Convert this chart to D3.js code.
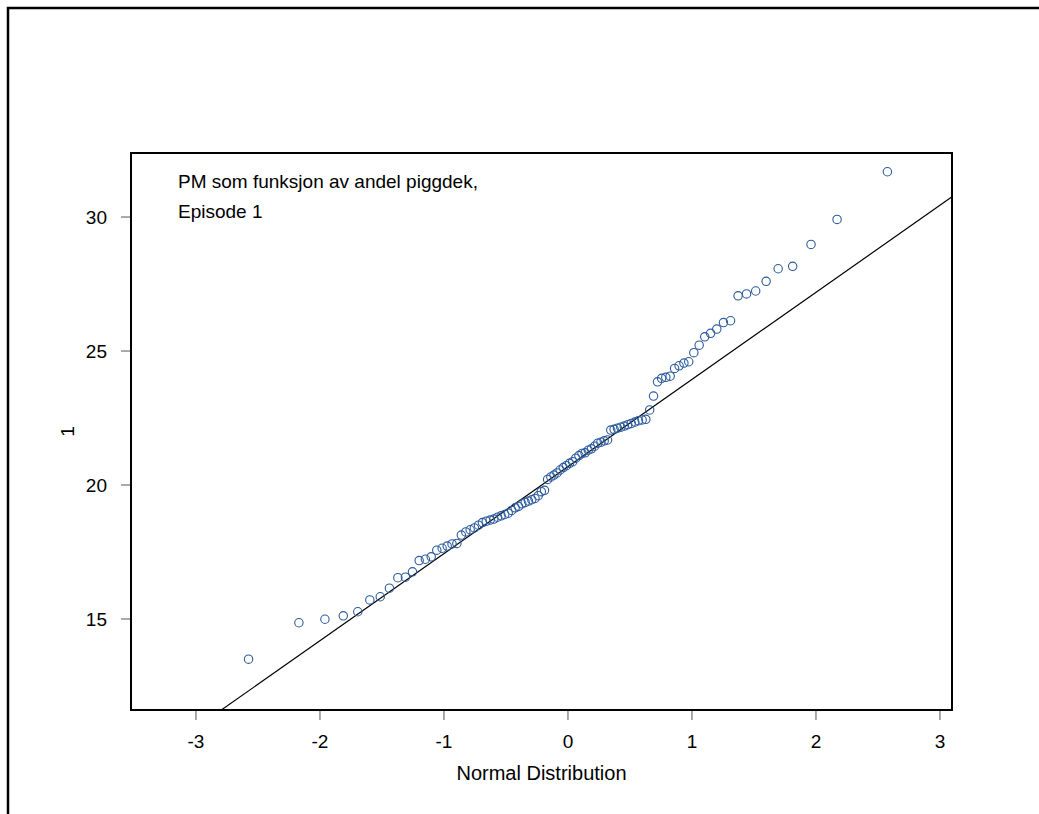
<!DOCTYPE html>
<html>
<head>
<meta charset="utf-8">
<script src="https://cdn.jsdelivr.net/npm/d3@7"></script>
<style>
  body { margin: 0; background: #fff; }
  text { font-family: "Liberation Sans", Arial, sans-serif; }
</style>
</head>
<body>
<div class="chart"></div>
<script>
// theoretical normal quantiles (x) and sorted sample values (y)
const qx = [-2.576,-2.170,-1.960,-1.812,-1.695,-1.598,-1.514,-1.440,-1.372,-1.311,
  -1.254,-1.200,-1.150,-1.103,-1.058,-1.015,-0.974,-0.935,-0.896,-0.860,
  -0.824,-0.789,-0.755,-0.722,-0.690,-0.659,-0.628,-0.598,-0.568,-0.539,
  -0.510,-0.482,-0.454,-0.426,-0.399,-0.372,-0.345,-0.319,-0.292,-0.266,
  -0.240,-0.215,-0.189,-0.164,-0.138,-0.113,-0.088,-0.063,-0.038,-0.013,
  0.013,0.038,0.063,0.088,0.113,0.138,0.164,0.189,0.215,0.240,
  0.266,0.292,0.319,0.345,0.372,0.399,0.426,0.454,0.482,0.510,
  0.539,0.568,0.598,0.628,0.659,0.690,0.722,0.755,0.789,0.824,
  0.860,0.896,0.935,0.974,1.015,1.058,1.103,1.150,1.200,1.254,
  1.311,1.372,1.440,1.514,1.598,1.695,1.812,1.960,2.170,2.576]

const pm = [13.50,14.86,14.99,15.12,15.27,15.71,15.83,16.15,16.54,16.56,
  16.76,17.18,17.23,17.32,17.57,17.64,17.72,17.80,17.82,18.13,
  18.25,18.33,18.40,18.50,18.60,18.65,18.69,18.73,18.80,18.85,
  18.90,18.95,19.05,19.15,19.20,19.30,19.35,19.40,19.45,19.50,
  19.60,19.75,19.80,20.21,20.30,20.37,20.45,20.56,20.65,20.72,
  20.81,20.87,21.00,21.10,21.18,21.20,21.30,21.35,21.45,21.56,
  21.60,21.65,21.68,22.05,22.08,22.12,22.16,22.20,22.25,22.30,
  22.35,22.40,22.43,22.45,22.80,23.32,23.85,23.98,24.02,24.06,
  24.35,24.45,24.55,24.60,24.94,25.22,25.53,25.66,25.82,26.06,
  26.13,27.06,27.13,27.24,27.60,28.07,28.16,28.98,29.91,31.69]

const xTicks = [-3,-2,-1,0,1,2,3]
const yTicks = [15,20,25,30]

// reference line (intercept, slope) as drawn
const lineA = 20.69, lineB = 3.25

const W = 1039, H = 814
const box = { left: 131, right: 952, top: 153, bottom: 710 }

const svg = d3.select(".chart")
  .append("svg")
  .attr("width", W)
  .attr("height", H)

svg.append("rect").attr("width", W).attr("height", H).attr("fill", "#fff")

// outer frame (right and bottom edges fall outside the picture)
svg.append("rect")
  .attr("x", 8).attr("y", 8)
  .attr("width", W + 20).attr("height", H + 20)
  .attr("fill", "none")
  .attr("stroke", "#000")
  .attr("stroke-width", 2.5)

const x = d3.scaleLinear().domain([-3.524, 3.097]).range([box.left, box.right])
const y = d3.scaleLinear().domain([11.604, 32.39]).range([box.bottom, box.top])

svg.append("clipPath").attr("id", "clip")
  .append("rect")
  .attr("x", box.left).attr("y", box.top)
  .attr("width", box.right - box.left).attr("height", box.bottom - box.top)

// qq line
const xd = x.domain()
svg.append("line")
  .attr("clip-path", "url(#clip)")
  .attr("x1", x(xd[0])).attr("y1", y(lineA + lineB * xd[0]))
  .attr("x2", x(xd[1])).attr("y2", y(lineA + lineB * xd[1]))
  .attr("stroke", "#000")
  .attr("stroke-width", 1.2)

// points
svg.append("g")
  .selectAll("circle")
  .data(qx.map((q, i) => [q, pm[i]]))
  .join("circle")
  .attr("cx", d => x(d[0]))
  .attr("cy", d => y(d[1]))
  .attr("r", 4.2)
  .attr("fill", "none")
  .attr("stroke", "#2a5a9c")
  .attr("stroke-width", 1.1)

// plot box
svg.append("rect")
  .attr("x", box.left).attr("y", box.top)
  .attr("width", box.right - box.left).attr("height", box.bottom - box.top)
  .attr("fill", "none")
  .attr("stroke", "#000")
  .attr("stroke-width", 2)

// x axis
const gx = svg.append("g").attr("transform", "translate(0," + box.bottom + ")")
gx.selectAll("line").data(xTicks).join("line")
  .attr("x1", d => x(d)).attr("x2", d => x(d))
  .attr("y1", 1).attr("y2", 10)
  .attr("stroke", "#555").attr("stroke-width", 1)
gx.selectAll("text").data(xTicks).join("text")
  .attr("x", d => x(d)).attr("y", 38)
  .attr("text-anchor", "middle")
  .attr("font-size", "19px")
  .text(d => d)

// y axis
const gy = svg.append("g").attr("transform", "translate(" + box.left + ",0)")
gy.selectAll("line").data(yTicks).join("line")
  .attr("x1", -10).attr("x2", -1)
  .attr("y1", d => y(d)).attr("y2", d => y(d))
  .attr("stroke", "#555").attr("stroke-width", 1)
gy.selectAll("text").data(yTicks).join("text")
  .attr("x", -24).attr("y", d => y(d))
  .attr("dy", "0.36em")
  .attr("text-anchor", "end")
  .attr("font-size", "19px")
  .text(d => d)

// titles
svg.append("text")
  .attr("x", (box.left + box.right) / 2).attr("y", 780)
  .attr("text-anchor", "middle")
  .attr("font-size", "20px")
  .text("Normal Distribution")

svg.append("text")
  .attr("transform", "translate(74," + (box.top + box.bottom) / 2 + ") rotate(-90)")
  .attr("text-anchor", "middle")
  .attr("font-size", "19px")
  .text("1")

svg.append("text")
  .attr("x", 178).attr("y", 188)
  .attr("font-size", "19px")
  .text("PM som funksjon av andel piggdek,")
svg.append("text")
  .attr("x", 178).attr("y", 218)
  .attr("font-size", "19px")
  .text("Episode 1")
</script>
</body>
</html>
